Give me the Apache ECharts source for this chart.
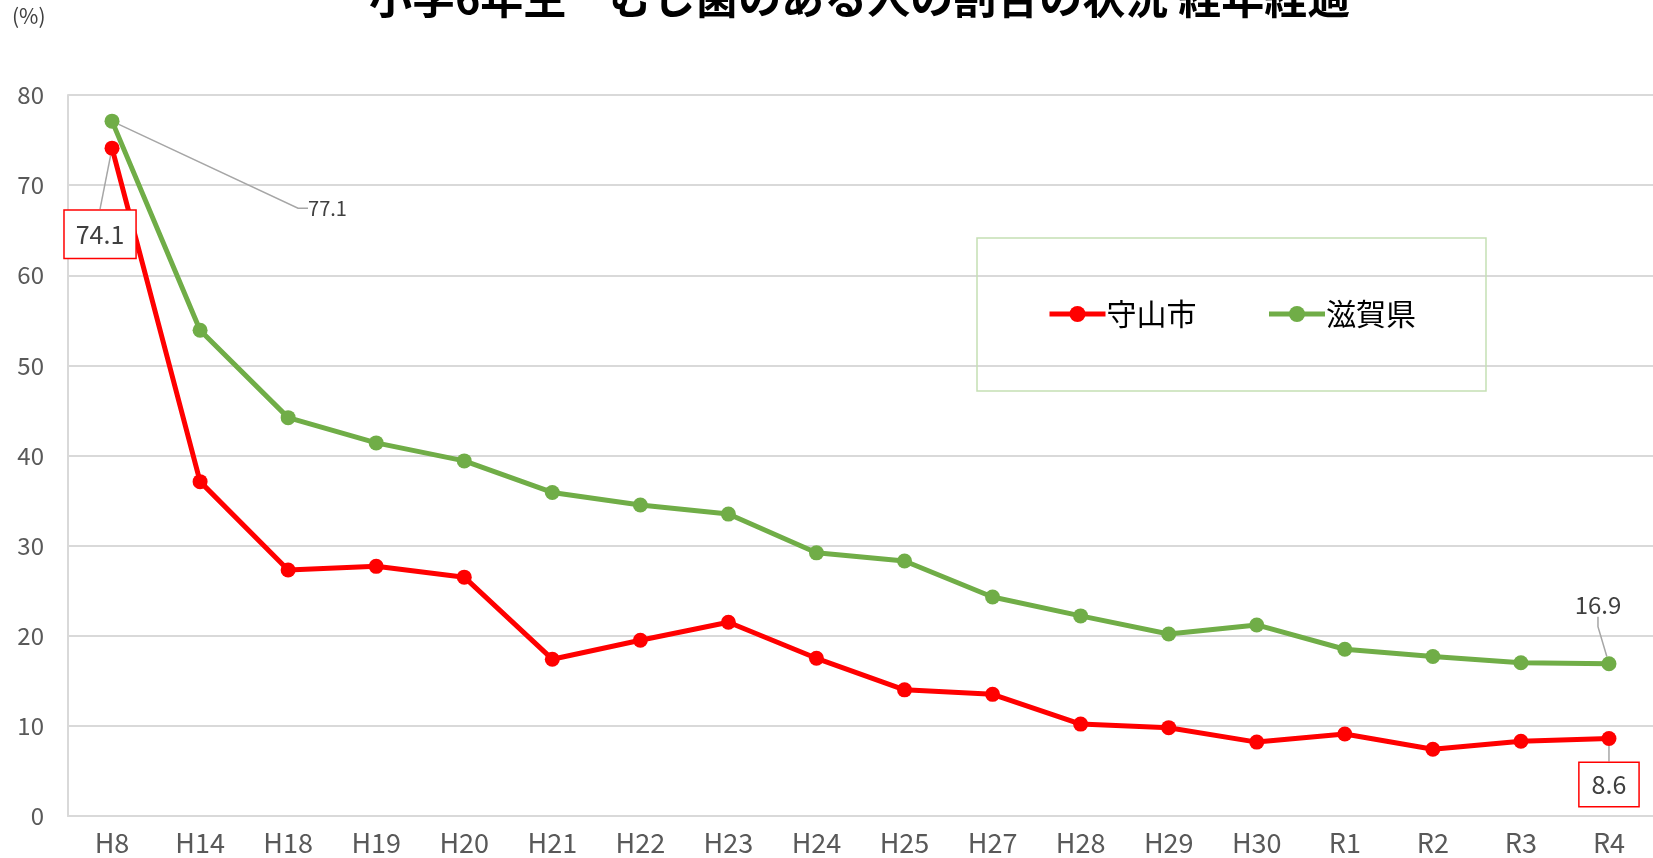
<!DOCTYPE html>
<html>
<head>
<meta charset="utf-8">
<script src="https://cdn.jsdelivr.net/npm/echarts@6/dist/echarts.min.js"></script>
<style>
  html, body { margin: 0; padding: 0; background: #fff; }
  #main { width: 1653px; height: 858px; }
</style>
</head>
<body>
<div id="main"></div>
<script>
// 年度
var years = ['H8', 'H14', 'H18', 'H19', 'H20', 'H21', 'H22', 'H23', 'H24', 'H25',
             'H27', 'H28', 'H29', 'H30', 'R1', 'R2', 'R3', 'R4'];
// 守山市
var moriyama = [74.1, 37.1, 27.3, 27.7, 26.5, 17.4, 19.5, 21.5, 17.5, 14.0,
                13.5, 10.2, 9.8, 8.2, 9.1, 7.4, 8.3, 8.6];
// 滋賀県
var shiga = [77.1, 53.9, 44.2, 41.4, 39.4, 35.9, 34.5, 33.5, 29.2, 28.3,
             24.3, 22.2, 20.2, 21.2, 18.5, 17.7, 17.0, 16.9];
var yTicks = [0, 10, 20, 30, 40, 50, 60, 70, 80];

var font = '"Noto Sans CJK JP", "Noto Sans", sans-serif';
var last = years.length - 1;

// 最初と最後だけラベルを出す
function withLabels(values, first, end) {
    return values.map(function (v, i) {
        if (i === 0) return { value: v, label: first };
        if (i === last) return { value: v, label: end };
        return v;
    });
}

var boxLabel = function (pad) {
    return {
        show: true,
        fontSize: 25,
        color: '#404040',
        fontFamily: font,
        borderColor: '#ff0000',
        borderWidth: 1.5,
        backgroundColor: '#fff',
        padding: pad
    };
};
var plainLabel = function (size) {
    return { show: true, fontSize: size, color: '#404040', fontFamily: font };
};

// ラベルの位置（点からのずれ）
var offsets = {
    '0-0': [-12, 86, 'center'],
    '0-17': [0, 46, 'center'],
    '1-0': [196, 87, 'left'],
    '1-17': [-11, -59, 'center']
};

var myChart = echarts.init(document.getElementById('main'));

var option = {
    animation: false,
    title: {
        text: '小学6年生　むし歯のある人の割合の状況 経年経過',
        left: 364,
        top: -29,
        textStyle: { fontSize: 43, fontWeight: 'bold', color: '#000', fontFamily: font }
    },
    graphic: [{
        type: 'text',
        left: 12,
        top: 6,
        style: { text: '(%)', fontSize: 21, fill: '#404040', fontFamily: font }
    }],
    legend: {
        left: 977,
        top: 238,
        padding: [61, 70, 62, 70],
        borderColor: '#c5e0b4',
        borderWidth: 1.5,
        itemWidth: 56,
        itemHeight: 20,
        itemGap: 70,
        lineStyle: { width: 5 },
        textStyle: { fontSize: 30, color: '#000', fontFamily: font, padding: [0, 0, 0, -4] },
        data: ['守山市', '滋賀県']
    },
    grid: { left: 68, right: 0, top: 95, bottom: 42 },
    xAxis: {
        type: 'category',
        data: years,
        boundaryGap: true,
        axisLine: { lineStyle: { color: '#d9d9d9', width: 2 } },
        axisTick: { show: false },
        axisLabel: { fontSize: 27, color: '#595959', fontFamily: font, margin: 13 }
    },
    yAxis: {
        type: 'value',
        min: yTicks[0],
        max: yTicks[yTicks.length - 1],
        interval: 10,
        axisLine: { show: true, lineStyle: { color: '#d9d9d9', width: 2 } },
        axisTick: { show: false },
        splitLine: { lineStyle: { color: '#d9d9d9', width: 2 } },
        axisLabel: { fontSize: 24, color: '#595959', fontFamily: font, margin: 24 }
    },
    series: [{
        name: '守山市',
        type: 'line',
        z: 3,
        data: withLabels(moriyama, boxLabel([12, 11, 10, 11]), boxLabel([10, 12, 8, 12])),
        color: '#ff0000',
        symbol: 'circle',
        symbolSize: 15,
        lineStyle: { width: 5 },
        labelLine: { show: true, lineStyle: { color: '#a6a6a6', width: 1.5 } }
    }, {
        name: '滋賀県',
        type: 'line',
        z: 2,
        data: withLabels(shiga, plainLabel(20), plainLabel(24)),
        color: '#70ad47',
        symbol: 'circle',
        symbolSize: 15,
        lineStyle: { width: 5 },
        labelLine: { show: true, length2: 10, lineStyle: { color: '#a6a6a6', width: 1.5 } }
    }],
    labelLayout: function (p) {
        var o = offsets[p.seriesIndex + '-' + p.dataIndex];
        if (!o) return {};
        var cx = p.rect.x + p.rect.width / 2;
        var cy = p.rect.y + p.rect.height / 2;
        return { x: cx + o[0], y: cy + o[1], align: o[2], verticalAlign: 'middle' };
    }
};

myChart.setOption(option);
</script>
</body>
</html>
